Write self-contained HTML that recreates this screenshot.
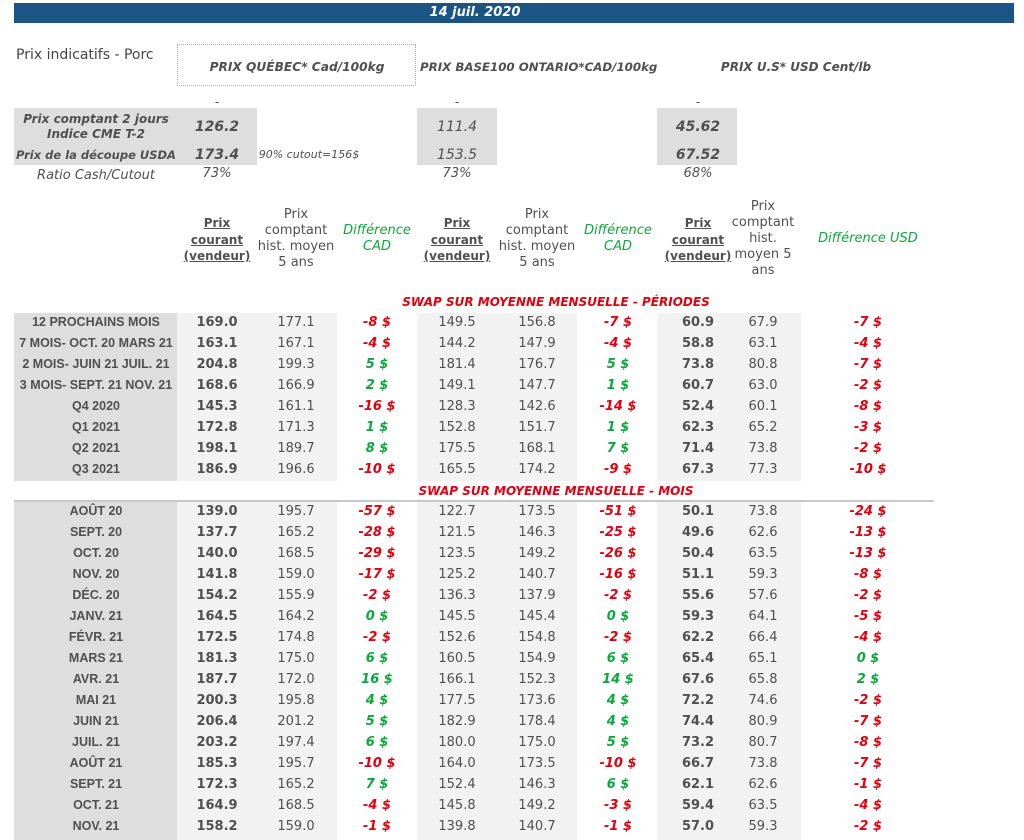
<!DOCTYPE html>
<html><head><meta charset="utf-8">
<style>
body{margin:0;width:1024px;height:840px;background:#fff;position:relative;overflow:hidden;font-family:"DejaVu Sans","Liberation Sans",sans-serif;color:#505050}
.a{position:absolute;white-space:nowrap;font-size:12px;line-height:16px}
.c{text-align:center;width:200px}
.b{font-weight:bold}
.i{font-style:italic}
.r{color:#e0000f}
.g{color:#0aa83c}
.u{text-decoration:underline}
.bg{position:absolute}
.lab{font-family:"Liberation Sans",sans-serif}
</style></head><body>
<div class="bg" style="left:14px;top:3px;width:1000px;height:20px;background:#1b5586"></div>
<div class="a c b i" style="left:375px;top:5px;color:#fff;font-size:13px">14 juil. 2020</div>
<div class="a" style="left:16px;top:47px;font-size:14px;color:#444">Prix indicatifs - Porc</div>
<div class="bg" style="left:177px;top:44px;width:239px;height:42px;border:1px dotted #aaa;box-sizing:border-box"></div>
<div class="a c b i" style="left:197px;top:59px;font-size:12.2px">PRIX QUÉBEC* Cad/100kg</div>
<div class="a b i" style="left:420px;top:59px;font-size:11.8px">PRIX BASE100 ONTARIO*CAD/100kg</div>
<div class="a c b i" style="left:696px;top:59px;font-size:12px">PRIX U.S* USD Cent/lb</div>
<div class="bg" style="left:14px;top:108px;width:243px;height:57px;background:#dedede"></div>
<div class="bg" style="left:417px;top:108px;width:80px;height:57px;background:#dedede"></div>
<div class="bg" style="left:657px;top:108px;width:80px;height:57px;background:#dedede"></div>
<div id="root"></div>
<script>
const labelsPeriods=["12 PROCHAINS MOIS","7 MOIS- OCT. 20 MARS 21","2 MOIS- JUIN 21 JUIL. 21","3 MOIS- SEPT. 21 NOV. 21","Q4 2020","Q1 2021","Q2 2021","Q3 2021"];
const labelsMonths=["AOÛT 20","SEPT. 20","OCT. 20","NOV. 20","DÉC. 20","JANV. 21","FÉVR. 21","MARS 21","AVR. 21","MAI 21","JUIN 21","JUIL. 21","AOÛT 21","SEPT. 21","OCT. 21","NOV. 21"];
const qcPrice=[169.0,163.1,204.8,168.6,145.3,172.8,198.1,186.9,139.0,137.7,140.0,141.8,154.2,164.5,172.5,181.3,187.7,200.3,206.4,203.2,185.3,172.3,164.9,158.2];
const qcHist=[177.1,167.1,199.3,166.9,161.1,171.3,189.7,196.6,195.7,165.2,168.5,159.0,155.9,164.2,174.8,175.0,172.0,195.8,201.2,197.4,195.7,165.2,168.5,159.0];
const qcDiff=[-8,-4,5,2,-16,1,8,-10,-57,-28,-29,-17,-2,0,-2,6,16,4,5,6,-10,7,-4,-1];
const onPrice=[149.5,144.2,181.4,149.1,128.3,152.8,175.5,165.5,122.7,121.5,123.5,125.2,136.3,145.5,152.6,160.5,166.1,177.5,182.9,180.0,164.0,152.4,145.8,139.8];
const onHist=[156.8,147.9,176.7,147.7,142.6,151.7,168.1,174.2,173.5,146.3,149.2,140.7,137.9,145.4,154.8,154.9,152.3,173.6,178.4,175.0,173.5,146.3,149.2,140.7];
const onDiff=[-7,-4,5,1,-14,1,7,-9,-51,-25,-26,-16,-2,0,-2,6,14,4,4,5,-10,6,-3,-1];
const usPrice=[60.9,58.8,73.8,60.7,52.4,62.3,71.4,67.3,50.1,49.6,50.4,51.1,55.6,59.3,62.2,65.4,67.6,72.2,74.4,73.2,66.7,62.1,59.4,57.0];
const usHist=[67.9,63.1,80.8,63.0,60.1,65.2,73.8,77.3,73.8,62.6,63.5,59.3,57.6,64.1,66.4,65.1,65.8,74.6,80.9,80.7,73.8,62.6,63.5,59.3];
const usDiff=[-7,-4,-7,-2,-8,-3,-2,-10,-24,-13,-13,-8,-2,-5,-4,0,2,-2,-7,-8,-7,-1,-4,-2];

const root=document.getElementById('root');
function t(cx,cy,txt,cls,name,extra){
  const d=document.createElement('div');
  d.className='a c '+(cls||'');
  d.style.left=(cx-100)+'px';d.style.top=(cy-8)+'px';
  if(extra)d.style.cssText+=extra;
  d.innerHTML=txt;
  
  
  root.appendChild(d);return d;
}
function rect(x,y,w,h,col,name){
  const d=document.createElement('div');
  d.className='bg';
  d.style.cssText='left:'+x+'px;top:'+y+'px;width:'+w+'px;height:'+h+'px;background:'+col;
  
  
  root.appendChild(d);
}
t(217,102,'-','','dash-qc');t(457,102,'-','','dash-on');t(698,102,'-','','dash-us');
t(96,119,'Prix comptant 2 jours','b i','cash-label-1');
t(96,134,'Indice CME T-2','b i','cash-label-2');
t(217,127,'126.2','b i','qc-cash',';font-size:14px');
t(457,127,'111.4','i','on-cash',';font-size:14px');
t(698,127,'45.62','b i','us-cash',';font-size:14px');
t(96,155,'Prix de la découpe USDA','b i','cutout-label',';font-size:11.5px');
t(217,155,'173.4','b i','qc-cutout',';font-size:14px');
t(457,155,'153.5','i','on-cutout',';font-size:14px');
t(698,155,'67.52','b i','us-cutout',';font-size:14px');
t(309,155,'90% cutout=156$','i','cutout-note',';font-size:11px');
t(96,176,'Ratio Cash/Cutout','i','ratio-label',';font-size:13px');
t(217,174,'73%','i','qc-ratio',';font-size:13px');t(457,174,'73%','i','on-ratio',';font-size:13px');t(698,174,'68%','i','us-ratio',';font-size:13px');
const hp='<span class="u">Prix<br>courant<br>(vendeur)</span>';
[217,457,698].forEach((x,k)=>t(x,223,hp,'b','price-col-header-'+k,';line-height:16.5px;font-size:12px'));
t(296,215,'Prix<br>comptant<br>hist. moyen<br>5 ans','','qc-hist-header',';line-height:16px;font-size:13px');
t(537,215,'Prix<br>comptant<br>hist. moyen<br>5 ans','','on-hist-header',';line-height:16px;font-size:13px');
t(763,207,'Prix<br>comptant<br>hist.<br>moyen 5<br>ans','','us-hist-header',';line-height:16px;font-size:13px');
t(377,231,'Différence<br>CAD','g i','qc-diff-header',';line-height:16px;font-size:13px');
t(618,231,'Différence<br>CAD','g i','on-diff-header',';line-height:16px;font-size:13px');
t(868,239,'Différence USD','g i','us-diff-header',';font-size:13px');
t(556,302,'SWAP SUR MOYENNE MENSUELLE - PÉRIODES','r b i','section-periods',';width:400px;left:356px;font-size:12px');
t(556,491,'SWAP SUR MOYENNE MENSUELLE - MOIS','r b i','section-months',';width:400px;left:356px;font-size:12px');
rect(14,500,920,2,'#c8c8c8','section-divider');
const rowsY=[];
for(let i=0;i<8;i++)rowsY.push(323+21*i);
for(let i=0;i<16;i++)rowsY.push(512+21*i);
const labels=labelsPeriods.concat(labelsMonths);
[[313,168],[502,338]].forEach((s,k)=>{
  rect(14,s[0],163,s[1],'#dedede','label-col-bg-'+k);
  rect(177,s[0],160,s[1],'#f2f2f2','qc-col-bg-'+k);
  rect(417,s[0],160,s[1],'#f2f2f2','on-col-bg-'+k);
  rect(657,s[0],144,s[1],'#f2f2f2','us-col-bg-'+k);
});
function diffTxt(v){return v+' $';}
function diffCls(v){return v<0?'r b i':'g b i';}
labels.forEach((l,i)=>{
  const y=rowsY[i];
  t(96,y-1.5,l,'b lab','row-label',';font-size:12.5px');
  t(217,y,qcPrice[i].toFixed(1),'b','qc-price',';font-size:13px');
  t(296,y,qcHist[i].toFixed(1),'','qc-hist',';font-size:13px');
  t(377,y,diffTxt(qcDiff[i]),diffCls(qcDiff[i]),'qc-diff',';font-size:13px');
  t(457,y,onPrice[i].toFixed(1),'','on-price',';font-size:13px');
  t(537,y,onHist[i].toFixed(1),'','on-hist',';font-size:13px');
  t(618,y,diffTxt(onDiff[i]),diffCls(onDiff[i]),'on-diff',';font-size:13px');
  t(698,y,usPrice[i].toFixed(1),'b','us-price',';font-size:13px');
  t(763,y,usHist[i].toFixed(1),'','us-hist',';font-size:13px');
  t(868,y,diffTxt(usDiff[i]),diffCls(usDiff[i]),'us-diff',';font-size:13px');
});
</script>
</body></html>
